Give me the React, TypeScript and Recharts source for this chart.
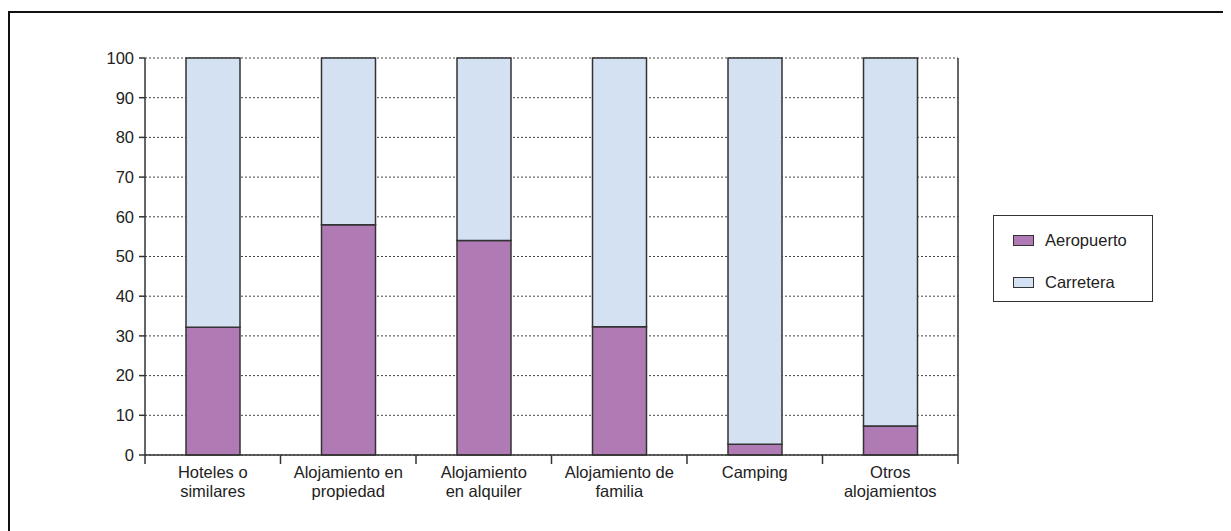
import React from "react";
import {
  Bar,
  BarChart,
  CartesianGrid,
  XAxis,
  YAxis,
} from "recharts";

const categories = [
  "Hoteles o similares",
  "Alojamiento en propiedad",
  "Alojamiento en alquiler",
  "Alojamiento de familia",
  "Camping",
  "Otros alojamientos",
];
const categoryLines = [
  ["Hoteles o", "similares"],
  ["Alojamiento en", "propiedad"],
  ["Alojamiento", "en alquiler"],
  ["Alojamiento de", "familia"],
  ["Camping"],
  ["Otros", "alojamientos"],
];
const aeropuerto = [32.2, 58, 54, 32.3, 2.7, 7.3];
const carretera = [67.8, 42, 46, 67.7, 97.3, 92.7];
const yTicks = [0, 10, 20, 30, 40, 50, 60, 70, 80, 90, 100];

const data = categories.map((name, i) => ({
  name,
  Aeropuerto: aeropuerto[i],
  Carretera: carretera[i],
}));

const FONT = "'Liberation Sans', Arial, sans-serif";
const FS = 16.5;
const PURPLE = "#B07AB4";
const BLUE = "#D3E1F3";
const STROKE = "#333333";
const PLOT_W = 813;
const HALF_BAND = PLOT_W / categories.length / 2;

const XTick = (props: any) => {
  const { x, y, payload } = props;
  const i = categories.indexOf(payload.value);
  const lines = categoryLines[i] || [payload.value];
  return (
    <g>
      <line x1={x - HALF_BAND} x2={x - HALF_BAND} y1={y - 8} y2={y + 1} stroke={STROKE} strokeWidth={1.5} />
      {i === categories.length - 1 && (
        <line x1={x + HALF_BAND} x2={x + HALF_BAND} y1={y - 8} y2={y + 1} stroke={STROKE} strokeWidth={1.5} />
      )}
      {lines.map((l, k) => (
        <text
          key={k}
          x={x}
          y={y + 15 + k * 18.5}
          textAnchor="middle"
          fontSize={FS}
          fontFamily={FONT}
          fill="#222"
        >
          {l}
        </text>
      ))}
    </g>
  );
};

const legendItems = [
  { name: "Aeropuerto", color: PURPLE, top: 15 },
  { name: "Carretera", color: BLUE, top: 57 },
];

const LegendBox = () => (
  <div
    style={{
      position: "absolute",
      left: 985,
      top: 207,
      width: 160,
      height: 87,
      border: "1px solid #333",
      boxSizing: "border-box",
      background: "#fff",
      fontFamily: FONT,
      fontSize: FS,
      color: "#222",
    }}
  >
    {legendItems.map((it) => (
      <div key={it.name} style={{ position: "absolute", left: 19, top: it.top, display: "flex", alignItems: "center", height: 18 }}>
        <span
          style={{
            display: "inline-block",
            width: 21,
            height: 11,
            background: it.color,
            border: "1px solid #333",
            boxSizing: "border-box",
            marginRight: 11,
          }}
        />
        <span>{it.name}</span>
      </div>
    ))}
  </div>
);

export default function App() {
  return (
    <div style={{ position: "relative", width: 1223, height: 523 }}>
      <div
        style={{
          position: "absolute",
          left: 0,
          top: 3,
          width: 1230,
          height: 530,
          borderLeft: "2px solid #111",
          borderTop: "2px solid #111",
          boxSizing: "border-box",
        }}
      />
      <div style={{ position: "absolute", left: 0, top: 0 }}>
        <BarChart
          width={1215}
          height={515}
          data={data}
          margin={{ top: 50, right: 264, bottom: 28, left: 97 }}
          barSize={54}
        >
          <CartesianGrid
            horizontal
            vertical={false}
            stroke="#444"
            strokeDasharray="2 2"
          />
          <XAxis
            dataKey="name"
            height={40}
            tick={<XTick />}
            tickLine={false}
            axisLine={{ stroke: STROKE, strokeWidth: 1.5 }}
            interval={0}
          />
          <YAxis
            width={40}
            domain={[0, 100]}
            ticks={yTicks}
            interval={0}
            tick={{ fontSize: FS, fontFamily: FONT, fill: "#222" }}
            tickSize={6}
            tickMargin={5}
            tickLine={{ stroke: STROKE, strokeWidth: 1.5 }}
            axisLine={{ stroke: STROKE, strokeWidth: 1.5 }}
          />
          <YAxis
            yAxisId="r"
            orientation="right"
            width={1}
            domain={[0, 100]}
            tick={false}
            tickLine={false}
            axisLine={{ stroke: STROKE, strokeWidth: 1.5 }}
          />
          <Bar
            dataKey="Aeropuerto"
            stackId="a"
            fill={PURPLE}
            stroke={STROKE}
            strokeWidth={1.5}
            isAnimationActive={false}
          />
          <Bar
            dataKey="Carretera"
            stackId="a"
            fill={BLUE}
            stroke={STROKE}
            strokeWidth={1.5}
            isAnimationActive={false}
          />
        </BarChart>
      </div>
      <LegendBox />
    </div>
  );
}
